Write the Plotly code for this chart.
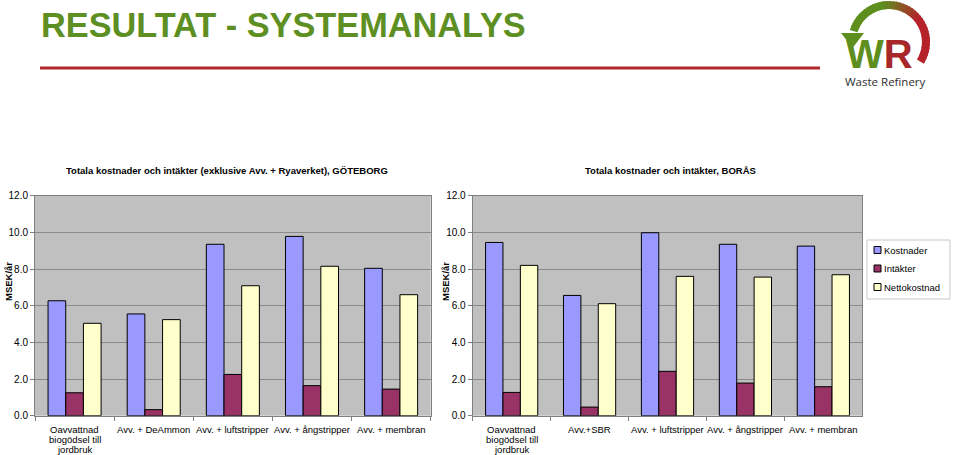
import math
import plotly.graph_objects as go

W, H = 960, 455

cats_gbg = ["Oavvattnad<br>biogödsel till<br>jordbruk", "Avv. + DeAmmon", "Avv. + luftstripper",
            "Avv. + ångstripper", "Avv. + membran"]
cats_bor = ["Oavvattnad<br>biogödsel till<br>jordbruk", "Avv.+SBR", "Avv. + luftstripper",
            "Avv. + ångstripper", "Avv. + membran"]

gbg_kostnader = [6.27, 5.55, 9.35, 9.78, 8.04]
gbg_intakter = [1.25, 0.33, 2.25, 1.64, 1.45]
gbg_netto = [5.04, 5.24, 7.09, 8.15, 6.60]

bor_kostnader = [9.45, 6.56, 9.98, 9.35, 9.25]
bor_intakter = [1.27, 0.47, 2.42, 1.78, 1.58]
bor_netto = [8.20, 6.11, 7.60, 7.56, 7.69]

series_names = ["Kostnader", "Intäkter", "Nettokostnad"]
series_colors = ["#9999FF", "#993366", "#FFFFCC"]


def px(x):
    return x / W


def py(y):
    return 1 - y / H


fig = go.Figure()

for i, (name, col) in enumerate(zip(series_names, series_colors)):
    fig.add_trace(go.Bar(x=cats_gbg, y=[gbg_kostnader, gbg_intakter, gbg_netto][i], name=name,
                         marker=dict(color=col, line=dict(color="black", width=1)),
                         xaxis="x", yaxis="y", showlegend=False))
for i, (name, col) in enumerate(zip(series_names, series_colors)):
    fig.add_trace(go.Bar(x=cats_bor, y=[bor_kostnader, bor_intakter, bor_netto][i], name=name,
                         marker=dict(color=col, line=dict(color="black", width=1)),
                         xaxis="x2", yaxis="y2", showlegend=False))

font_family = "Liberation Sans, Arial, sans-serif"

xcommon = dict(showgrid=False, showline=True, linecolor="#808080", linewidth=1, mirror=True,
               ticks="outside", tickson="boundaries", ticklen=4, tickcolor="#808080",
               showticklabels=False, automargin=False, fixedrange=True)
ycommon = dict(range=[0, 12], dtick=2, tickformat=".1f", showgrid=True, gridcolor="#8a8a8a",
               gridwidth=1, showline=True, linecolor="#808080", linewidth=1, mirror=True,
               ticks="outside", ticklen=4, tickcolor="#808080", zeroline=False, automargin=False,
               tickfont=dict(size=10, color="black", family=font_family), fixedrange=True)

ydom = [py(415.7), py(195.7)]

fig.update_layout(
    template="none",
    width=W, height=H,
    margin=dict(l=0, r=0, t=0, b=0, autoexpand=False),
    paper_bgcolor="white",
    plot_bgcolor="#C0C0C0",
    barmode="group",
    bargap=0.33,
    bargroupgap=0,
    font=dict(family=font_family, size=10, color="black"),
    xaxis=dict(domain=[px(35), px(430.7)], anchor="y", **xcommon),
    yaxis=dict(domain=ydom, anchor="x", **ycommon),
    xaxis2=dict(domain=[px(472.7), px(862.3)], anchor="y2", **xcommon),
    yaxis2=dict(domain=ydom, anchor="x2", **ycommon),
    showlegend=False,
)

ann = []
shapes = []

# category labels (one annotation per line for tight line spacing), placed on the category axes
for xref, cats in (("x", cats_gbg), ("x2", cats_bor)):
    for c in cats:
        for li, line in enumerate(c.split("<br>")):
            ann.append(dict(text=line, x=c, xref=xref, y=py(429 + 10 * li), yref="paper",
                            xanchor="center", yanchor="middle", showarrow=False,
                            font=dict(size=9.5, color="black", family=font_family)))

# main title
ann.append(dict(text="<b>RESULTAT - SYSTEMANALYS</b>", x=px(39), y=py(4), xref="paper", yref="paper",
                xanchor="left", yanchor="top", showarrow=False,
                font=dict(size=34.3, color="#5E8F22", family="Liberation Sans, Arial, sans-serif")))
# chart titles
ann.append(dict(text="<b>Totala kostnader och intäkter (exklusive Avv. + Ryaverket), GÖTEBORG</b>",
                x=px(227), y=py(170), xref="paper", yref="paper", xanchor="center", yanchor="middle",
                showarrow=False, font=dict(size=9.5, family=font_family)))
ann.append(dict(text="<b>Totala kostnader och intäkter, BORÅS</b>",
                x=px(670), y=py(170), xref="paper", yref="paper", xanchor="center", yanchor="middle",
                showarrow=False, font=dict(size=9.5, family=font_family)))
# axis titles
for xx in (8, 445):
    ann.append(dict(text="<b>MSEK/år</b>", x=px(xx), y=py(282), xref="paper", yref="paper",
                    xanchor="center", yanchor="middle", textangle=-90, showarrow=False,
                    font=dict(size=9.5, family=font_family)))

# custom legend
shapes.append(dict(type="rect", xref="paper", yref="paper", x0=px(867), x1=px(950), y0=py(240), y1=py(299),
                   line=dict(color="#C8C8C8", width=1), fillcolor="white"))
for k, (name, col) in enumerate(zip(series_names, series_colors)):
    yc = 250 + k * 18.5
    shapes.append(dict(type="rect", xref="paper", yref="paper", x0=px(874), x1=px(881),
                       y0=py(yc + 3.5), y1=py(yc - 3.5), line=dict(color="black", width=1), fillcolor=col))
    ann.append(dict(text=name, x=px(882), y=py(yc), xref="paper", yref="paper", xanchor="left",
                    yanchor="middle", showarrow=False, font=dict(size=9.5, family=font_family)))

# red line under title
shapes.append(dict(type="line", xref="paper", yref="paper", x0=px(40), x1=px(820), y0=py(68), y1=py(68),
                   line=dict(color="#B3282D", width=3)))

# logo arc (gradient green -> red) as overlapping annular sectors
cx, cy, r_in, r_out = 889, 42, 33, 41
n = 40
a0, a1 = 163, -32
g = (0x5E, 0x8F, 0x1E)
rd = (0xB5, 0x22, 0x2A)


def pt(rr, ang):
    return px(cx + rr * math.cos(math.radians(ang))), py(cy - rr * math.sin(math.radians(ang)))


for k in range(n):
    t0 = a0 + (a1 - a0) * k / n
    t1 = a0 + (a1 - a0) * (k + 1.6) / n if k < n - 1 else a1
    tm = a0 + (a1 - a0) * (k + 0.5) / n
    f = min(1, max(0, (100 - tm) / 60))
    c = "rgb(%d,%d,%d)" % tuple(int(g[j] + (rd[j] - g[j]) * f) for j in range(3))
    p1 = pt(r_out, t0); p2 = pt(r_out, t1); p3 = pt(r_in, t1); p4 = pt(r_in, t0)
    path = "M %f %f L %f %f L %f %f L %f %f Z" % (p1 + p2 + p3 + p4)
    shapes.append(dict(type="path", xref="paper", yref="paper", path=path, fillcolor=c,
                       line=dict(width=0)))
# arrow head
shapes.append(dict(type="path", xref="paper", yref="paper",
                   path="M %f %f L %f %f L %f %f Z" % (px(841), py(33), px(864), py(33), px(852.5), py(48)),
                   fillcolor="#5E8F1E", line=dict(width=0)))

# logo text
ann.append(dict(text="<b><span style='color:#5E8F1E'>W</span><span style='color:#A8282A'>R</span></b>",
                x=px(879), y=py(54), xref="paper", yref="paper", xanchor="center",
                yanchor="middle", showarrow=False,
                font=dict(size=40, family="Liberation Sans, sans-serif")))
ann.append(dict(text="Waste Refinery", x=px(885), y=py(81), xref="paper", yref="paper", xanchor="center",
                yanchor="middle", showarrow=False,
                font=dict(size=11.5, color="#2E2E2E", family="Open Sans, sans-serif")))

fig.update_layout(annotations=ann, shapes=shapes)

fig.write_html("out.html")
